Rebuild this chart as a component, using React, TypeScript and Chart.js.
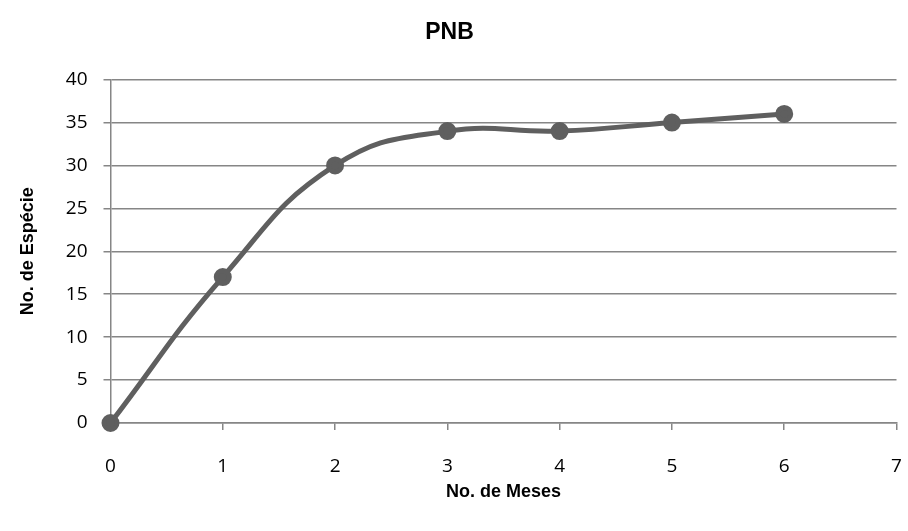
import React, { useEffect, useRef } from "react";
import { Chart, registerables } from "chart.js";

Chart.register(...registerables);

const months = [0, 1, 2, 3, 4, 5, 6];
const species = [0, 17, 30, 34, 34, 35, 36];
const chartTitle = "PNB";
const xTitle = "No. de Meses";
const yTitle = "No. de Espécie";

const xTitlePlugin = {
  id: "xTitlePlugin",
  afterDraw(chart: any) {
    const { ctx, chartArea } = chart;
    ctx.save();
    ctx.font = "bold 18px 'Liberation Sans'";
    ctx.fillStyle = "#000";
    ctx.textAlign = "center";
    ctx.textBaseline = "middle";
    ctx.fillText(xTitle, (chartArea.left + chartArea.right) / 2, chartArea.bottom + 69);
    ctx.restore();
  },
};

export default function App() {
  const ref = useRef<HTMLCanvasElement | null>(null);
  useEffect(() => {
    document.body.style.margin = "0";
    const ctx = ref.current!;
    const chart = new Chart(ctx, {
      type: "scatter",
      data: {
        datasets: [
          {
            data: months.map((m, i) => ({ x: m, y: species[i] })),
            showLine: true,
            borderColor: "#5f5f5f",
            backgroundColor: "#5f5f5f",
            borderWidth: 5,
            pointRadius: 6.5,
            pointHoverRadius: 6.5,
            tension: 0.45,
            clip: false,
          },
        ],
      },
      plugins: [xTitlePlugin],
      options: {
        animation: false,
        responsive: false,
        layout: { padding: { left: 0, right: 9, top: 0, bottom: 0 } },
        plugins: {
          legend: { display: false },
          tooltip: { enabled: false },
          title: {
            display: true,
            text: chartTitle,
            color: "#000",
            font: { family: "Liberation Sans", size: 23, weight: "bold" },
            padding: { top: 19, bottom: 33 },
          },
        },
        scales: {
          x: {
            type: "linear",
            min: 0,
            max: 7,
            ticks: {
              stepSize: 1,
              color: "#000",
              padding: 25,
              font: { family: "Open Sans", size: 19 },
            },
            grid: { drawOnChartArea: false, drawTicks: true, tickLength: 7, color: "#868686", lineWidth: 1.5 },
            border: { color: "#868686", width: 1.5 },
            afterFit: (s: any) => {
              s.paddingLeft = 0;
              s.paddingRight = 0;
              s.height = 108;
            },
          },
          y: {
            min: 0,
            max: 40,
            ticks: {
              stepSize: 5,
              color: "#000",
              padding: 16,
              font: { family: "Open Sans", size: 19 },
            },
            grid: { drawTicks: true, tickLength: 7, color: "#868686", lineWidth: 1.5 },
            border: { color: "#868686", width: 1.5 },
            title: {
              display: true,
              text: yTitle,
              color: "#000",
              font: { family: "Liberation Sans", size: 18, weight: "bold" },
              padding: { top: 17, bottom: 12 },
            },
            afterFit: (s: any) => {
              s.width = 110.5;
            },
          },
        },
      },
    });
    return () => chart.destroy();
  }, []);
  return (
    <div style={{ width: 908, height: 531 }}>
      <canvas ref={ref} width={908} height={531} style={{ width: 908, height: 531 }} />
    </div>
  );
}
